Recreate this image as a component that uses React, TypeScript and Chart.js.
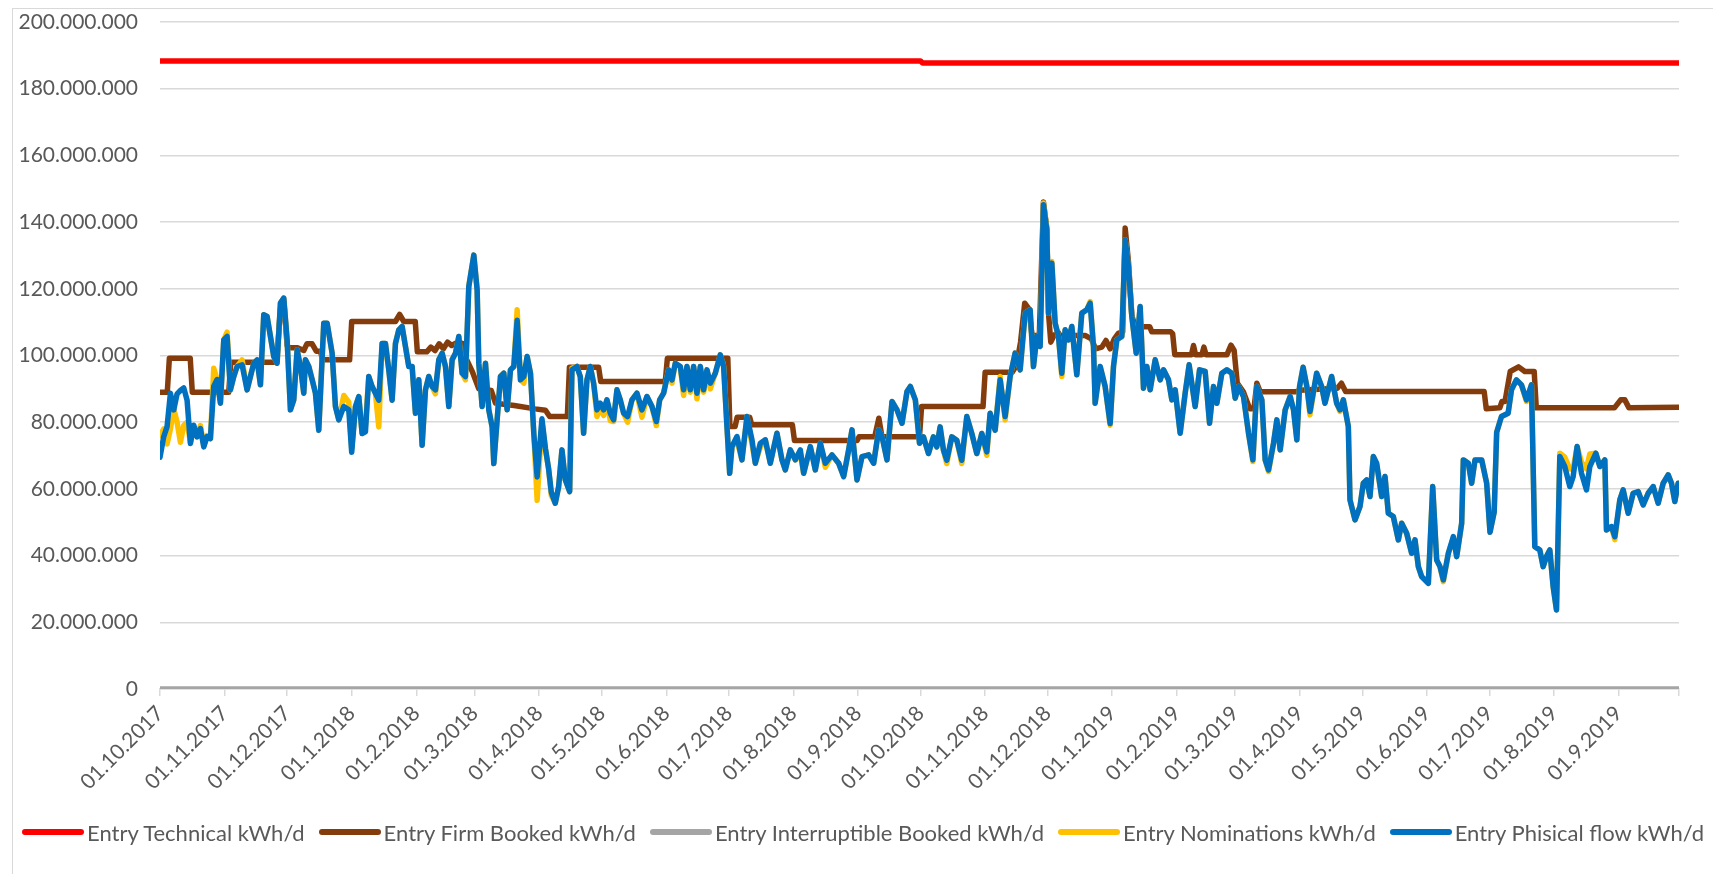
import React, { useEffect, useRef } from "react";
import { Chart, registerables } from "chart.js";

Chart.register(...registerables);

// x = day index counted from 01.10.2017, y = million kWh/d
const tickDays = [0, 31, 61, 92, 123, 151, 182, 212, 243, 273, 304, 335, 365, 396, 426, 457, 488, 516, 547, 577, 608, 638, 669, 700];
const tickLabels = [
  "01.10.2017", "01.11.2017", "01.12.2017", "01.1.2018", "01.2.2018", "01.3.2018", "01.4.2018", "01.5.2018",
  "01.6.2018", "01.7.2018", "01.8.2018", "01.9.2018", "01.10.2018", "01.11.2018", "01.12.2018", "01.1.2019",
  "01.2.2019", "01.3.2019", "01.4.2019", "01.5.2019", "01.6.2019", "01.7.2019", "01.8.2019", "01.9.2019",
];
const lastDay = 729;
const yTicks = [0, 20, 40, 60, 80, 100, 120, 140, 160, 180, 200];

const seriesNames = [
  "Entry Technical kWh/d",
  "Entry Firm Booked kWh/d",
  "Entry Interruptible Booked kWh/d",
  "Entry Nominations kWh/d",
  "Entry Phisical flow kWh/d",
];
const seriesColors = ["#FF0000", "#843C0C", "#A5A5A5", "#FFC000", "#0070C0"];

const technical: [number, number][] = [[0, 188.3], [365, 188.3], [366, 187.7], [729, 187.7]];

const firmBooked: [number, number][] = [
  [0, 89], [3.5, 89], [4.5, 99.2], [14.5, 99.2], [15.5, 89], [33, 89], [34, 98], [56, 98], [57.8, 114], [59.4, 116.5],
  [61, 103], [62, 102.3], [66, 102.3], [69, 101.5], [70.5, 103.5], [73, 103.5], [75, 101.3], [77, 101.3], [78, 98.7], [91, 98.7],
  [92, 110.2], [113, 110.2], [115, 112.3], [117, 110.2], [122.5, 110.2], [123.5, 101.1], [128, 101.1], [130, 102.5], [132, 101.5],
  [134, 103.5], [136, 102], [138, 104], [140, 103], [142, 103.7], [145, 103.7], [147, 99], [150, 95], [153, 90], [159, 89.5],
  [161, 85.7], [170, 85], [180, 84], [185, 83.6], [187, 81.7], [195.5, 81.7], [196.5, 96.5], [210.5, 96.5], [211.5, 92.2],
  [242.5, 92.2], [243.5, 99.2], [272.5, 99.2], [273.5, 78.7], [276, 78.7], [277, 81.5], [283, 81.5], [284, 79.2], [303.5, 79.2],
  [304.5, 74.5], [334.5, 74.5], [335.5, 75.6], [343, 75.6], [345, 81.2], [346.5, 75.6], [364.5, 75.6], [365.5, 84.7], [395, 84.7],
  [396, 95], [409, 95], [411, 97], [413, 104], [415, 115.7], [417, 114], [418.5, 106], [422, 106], [424, 146], [425.6, 138],
  [426.5, 112], [427.5, 104], [429, 106], [431, 107], [433, 105], [436, 106], [440, 106], [444, 106], [447, 105], [449, 102],
  [452, 102.5], [454, 104.5], [456, 102], [458, 105], [460, 106.7], [462, 107], [463.2, 138.2], [464.8, 128], [466.4, 112],
  [468, 108.6], [475, 108.6], [476, 107.1], [485, 107.1], [486, 106.5], [487, 100.2], [495, 100.2], [496, 103], [497, 100.2],
  [500, 100.2], [501, 102.5], [502, 100.2], [512, 100.2], [514, 103.1], [515.5, 101.5], [517, 91.7], [520, 89], [523, 84],
  [525, 84], [526.4, 91.7], [528, 89.1], [545, 89.1], [547, 89.6], [565, 90.2], [567, 91.7], [569, 89.2], [635.5, 89.2],
  [636.5, 84], [643, 84.3], [644, 86.2], [645.5, 86.2], [648, 95.2], [652, 96.6], [655, 95.2], [659.5, 95.2], [660.5, 84.3],
  [698, 84.3], [701, 86.7], [703, 86.7], [705, 84.3], [729, 84.5],
];

const interruptible: [number, number][] = [[0, 0], [729, 0]];

const nominations: [number, number][] = [
  [0, 76], [1.8, 78], [3.4, 73.5], [5, 78], [6.6, 84], [8.2, 80], [9.8, 74], [11.4, 79], [13, 80], [14.6, 74], [16.2, 78],
  [17.8, 76], [19.4, 79], [21, 73], [22.6, 76], [24.2, 75.1], [25.8, 96.2], [27.4, 92.8], [29, 85.7], [30.6, 104.7], [32.2, 107],
  [33.8, 89.7], [35.4, 93.7], [37, 96.7], [39.4, 98.7], [41.8, 89.7], [43.4, 93.7], [45, 97.7], [46.6, 98.7], [48.2, 91.2],
  [49.8, 112.2], [51.4, 111.7], [53, 105.7], [54.6, 99.7], [56.2, 97.7], [57.8, 115.7], [59.4, 117.2], [61, 104.7], [62.6, 83.7],
  [64.2, 86.7], [65.8, 101.7], [67.4, 96.7], [69, 88.7], [69.8, 98.7], [71.4, 96.7], [73, 92.8], [74.6, 88.7], [76.2, 77.6],
  [78.6, 109.7], [80.2, 109.7], [82.6, 100.7], [84.2, 84.7], [85.8, 80.7], [88.2, 88], [90.6, 86], [92, 72], [93.8, 84.7],
  [95.4, 87.7], [97, 76.6], [98.6, 79], [100.2, 93.7], [101.8, 90.7], [103.4, 88.7], [105, 78.6], [106.6, 103.6], [108.2, 103.6],
  [109.8, 95.7], [111.4, 86.6], [113, 103.6], [114.6, 107.7], [116.2, 108.7], [117.8, 102.7], [119.4, 96.7], [121, 96.7],
  [122.6, 82.7], [124.2, 92.7], [125.8, 73.1], [127.4, 89.7], [129, 93.7], [130.6, 90.7], [132.2, 88.5], [133.8, 98.7],
  [135.4, 100.7], [137, 96.7], [138.6, 84.7], [140.2, 98.7], [141.8, 100.7], [143.4, 105.7], [145, 94.7], [146.6, 92.7],
  [148.2, 120.7], [150.6, 130.1], [152.2, 119.7], [153, 97.7], [154.6, 84.7], [156.2, 97.7], [157.8, 83.7], [159.4, 78.6],
  [160.2, 67.6], [161.8, 80.7], [163.4, 93.7], [165, 94.7], [166.6, 83.7], [168.2, 95.7], [169.8, 96.7], [171.4, 113.7],
  [173, 92.7], [174.6, 91.7], [176.2, 99.7], [177.8, 94.7], [179.4, 76.6], [181, 56.6], [183.3, 80], [185, 72], [186.5, 66],
  [187.8, 58], [189.7, 55.7], [191.3, 60.6], [192.9, 71.7], [194.5, 62.7], [196.6, 59.2], [197.7, 96.2], [200.1, 96.7],
  [201.7, 93.7], [203.3, 76.7], [204.9, 92.7], [206.5, 96.7], [208.1, 91.7], [209.7, 81.7], [211.3, 84.5], [212.9, 82],
  [214.5, 86.7], [216.1, 80.5], [217.7, 80.2], [219.3, 89.7], [220.9, 86.7], [222.5, 82.7], [224.4, 80], [226.5, 86.7],
  [228.9, 88.7], [231.3, 81.5], [233.7, 87.7], [236.1, 84.7], [238.2, 79], [239.8, 86.7], [241.7, 88.7], [244.1, 95.7],
  [245.7, 91.7], [247.3, 97.7], [249.7, 96.7], [251.3, 88], [252.9, 96.7], [254.5, 89], [256.1, 96.7], [257.7, 87],
  [259.3, 96.7], [260.9, 89], [262.5, 95.7], [264.1, 90], [266.5, 94.7], [268.9, 100.2], [270.5, 96.7], [272.1, 78.7],
  [273.4, 64.7], [274.5, 72.7], [276.9, 74.5], [279.3, 68.7], [281.7, 81.7], [284.1, 73.5], [285.7, 67.7], [288.1, 72.5],
  [290.5, 74.7], [292.9, 67.7], [296.1, 76.7], [298.5, 68.7], [300.1, 65.7], [302.5, 71.7], [304.9, 68.7], [307.3, 70.5],
  [308.9, 64.7], [312.1, 72.7], [314.5, 65.7], [316.9, 73.7], [319.3, 66.5], [322.5, 70.2], [325.7, 67.7], [328.1, 63.7],
  [330.5, 71.7], [332.1, 77.7], [334.5, 62.7], [336.9, 69.7], [340.1, 70.2], [342.5, 67.7], [344.9, 77.7], [346.5, 75.7],
  [348.9, 68.7], [351.3, 86.2], [353.7, 83.7], [356.1, 79.7], [358.5, 89.2], [360.1, 90.7], [362.5, 86.7], [364.5, 73.7],
  [366.4, 75.6], [368.8, 70.6], [371.2, 75.6], [372.8, 72.6], [374.4, 78.6], [376, 71.6], [377.6, 67.6], [380, 75.6],
  [382.4, 74.6], [384.8, 67.6], [387.2, 81.7], [389.6, 76.6], [392, 70.6], [394.4, 76.6], [396.8, 70.1], [398.4, 82.7],
  [400.8, 77.6], [403.2, 93.7], [405.6, 80.7], [408, 93.7], [410.4, 100.7], [412.8, 95.7], [415.2, 112.7], [417.6, 113.7],
  [419.2, 96.7], [420.8, 105.7], [422.4, 102.7], [424, 145.7], [425.6, 138.2], [426.4, 112.7], [428, 128.2], [429.6, 109.7],
  [431.2, 105.7], [432.8, 93.7], [434.4, 107.7], [436, 104.7], [437.6, 108.7], [440, 94.2], [442.4, 112.7], [444.8, 113.7],
  [446.4, 116.2], [448, 102.7], [448.8, 85.7], [451.2, 96.7], [453.6, 90.7], [456, 79.1], [457.6, 96.7], [459.2, 104.7],
  [461.6, 105.7], [463.2, 134.7], [464.8, 126.7], [466.4, 111.7], [468.5, 100.7], [470.4, 114.7], [472, 90.2], [473.6, 96.7],
  [475.2, 89.7], [477.6, 98.7], [480, 92.7], [481.6, 95.7], [484, 92.7], [485.6, 86.7], [487.2, 89.7], [489.6, 76.7],
  [492, 88.7], [493.9, 97.2], [496.8, 84.7], [498.9, 95.7], [501.6, 95.2], [503.7, 79.7], [505.6, 90.7], [507.2, 85.7],
  [509.6, 94.7], [512, 95.7], [514.4, 94.7], [516, 87.2], [517.6, 90.7], [520, 87.7], [522.4, 76.7], [524.5, 68.2],
  [526.4, 90.7], [528.8, 86.7], [530.4, 68.7], [532, 65.2], [534.4, 73.7], [536, 80.7], [537.6, 71.7], [540, 83.7],
  [542.4, 87.7], [544, 83.7], [545.6, 74.7], [546.9, 90.7], [548.6, 96.5], [550.4, 90.7], [551.9, 82.2], [555.1, 94.7],
  [557.5, 90.7], [559.1, 85.7], [562.3, 93.7], [564.7, 85.7], [566.3, 83.2], [567.9, 86.7], [570.3, 78.7], [571.1, 56.7],
  [573.5, 50.7], [575.9, 54.7], [577.5, 61.7], [579.1, 62.7], [580.7, 57.7], [582.3, 69.7], [583.9, 67.2], [586.3, 57.7],
  [587.9, 63.7], [589.5, 52.7], [591.9, 51.7], [594.3, 44.7], [595.9, 49.7], [598.3, 46.7], [600.7, 40.7], [602.3, 44.7],
  [603.9, 36.7], [605.5, 33.7], [608.7, 31.7], [610.8, 60.7], [612.7, 38.7], [614.3, 36.7], [615.9, 32.2], [618.3, 40.7],
  [620.7, 45.2], [622.3, 39.7], [624.7, 49.7], [625.5, 68.7], [627.9, 67.7], [629.5, 61.7], [631.1, 68.7], [634.3, 68.7],
  [636.7, 61.7], [638.3, 47], [640.3, 53], [641.5, 77], [643.8, 81.7], [647, 82.7], [648.6, 89.7], [651, 92.7], [653.4, 91.2],
  [655.8, 86.2], [658.2, 91.2], [659.8, 42.7], [662.2, 41.7], [663.8, 36.7], [665.4, 39.7], [667, 41.7], [668.6, 30.7],
  [670.2, 23.7], [671.8, 70.7], [674.2, 69.5], [676.6, 66], [678.2, 66], [680.1, 72.7], [682.2, 68], [684.6, 66],
  [686.2, 70.5], [689.1, 70.7], [691, 66.7], [693.4, 68.7], [694.2, 47.7], [696.6, 48.7], [698.2, 44.8], [700.6, 56.7],
  [702.2, 59.7], [704.6, 52.7], [707, 58.7], [709.4, 59.2], [711.8, 55.2], [714.2, 58.7], [716.6, 60.7], [719, 55.7],
  [721.4, 61.7], [723.8, 64.2], [725.4, 61.7], [727, 56.2], [728.6, 61.7],
];

const physicalFlow: [number, number][] = [
  [0, 69.5], [1.8, 75.7], [3.4, 78.7], [5, 88.7], [6.6, 83.7], [8.2, 88.5], [9.8, 89.5], [11.4, 90.3], [13, 86.6], [14.6, 73.6],
  [16.2, 79.1], [17.8, 75.6], [19.4, 78.1], [21, 72.6], [22.6, 75.7], [24.2, 75.1], [25.8, 90.8], [27.4, 92.8], [29, 85.7],
  [30.6, 104.7], [32.2, 105.7], [33.8, 89.7], [35.4, 93.7], [37, 96.7], [39.4, 97.2], [41.8, 89.7], [43.4, 93.7], [45, 97.7],
  [46.6, 98.7], [48.2, 91.2], [49.8, 112.2], [51.4, 111.7], [53, 105.7], [54.6, 99.7], [56.2, 97.7], [57.8, 115.7], [59.4, 117.2],
  [61, 104.7], [62.6, 83.7], [64.2, 86.7], [65.8, 101.7], [67.4, 96.7], [69, 88.7], [69.8, 98.7], [71.4, 96.7], [73, 92.8],
  [74.6, 88.7], [76.2, 77.6], [78.6, 109.7], [80.2, 109.7], [82.6, 100.7], [84.2, 84.7], [85.8, 80.7], [88.2, 84.7], [90.6, 83.7],
  [92, 71], [93.8, 84.7], [95.4, 87.7], [97, 76.6], [98.6, 77.1], [100.2, 93.7], [101.8, 90.7], [103.4, 88.7], [105, 86.6],
  [106.6, 103.6], [108.2, 103.6], [109.8, 95.7], [111.4, 86.6], [113, 103.6], [114.6, 107.7], [116.2, 108.7], [117.8, 102.7],
  [119.4, 96.7], [121, 96.7], [122.6, 82.7], [124.2, 92.7], [125.8, 73.1], [127.4, 89.7], [129, 93.7], [130.6, 90.7],
  [132.2, 89.7], [133.8, 98.7], [135.4, 100.7], [137, 96.7], [138.6, 84.7], [140.2, 98.7], [141.8, 100.7], [143.4, 105.7],
  [145, 94.7], [146.6, 93.7], [148.2, 120.7], [150.6, 130.1], [152.2, 119.7], [153, 97.7], [154.6, 84.7], [156.2, 97.7],
  [157.8, 83.7], [159.4, 78.6], [160.2, 67.6], [161.8, 80.7], [163.4, 93.7], [165, 94.7], [166.6, 83.7], [168.2, 95.7],
  [169.8, 96.7], [171.4, 110.6], [173, 92.7], [174.6, 93.7], [176.2, 99.7], [177.8, 94.7], [179.4, 76.6], [181, 63.6],
  [183.3, 81], [185, 72], [186.5, 66], [187.8, 59], [189.7, 55.7], [191.3, 60.6], [192.9, 71.7], [194.5, 62.7], [196.6, 59.2],
  [197.7, 95.7], [200.1, 96.7], [201.7, 93.7], [203.3, 76.7], [204.9, 92.7], [206.5, 96.7], [208.1, 91.7], [209.7, 83.7],
  [211.3, 85.7], [212.9, 83.7], [214.5, 86.7], [216.1, 82.7], [217.7, 80.7], [219.3, 89.7], [220.9, 86.7], [222.5, 82.7],
  [224.4, 81.7], [226.5, 86.7], [228.9, 88.7], [231.3, 83.7], [233.7, 87.7], [236.1, 84.7], [238.2, 80.2], [239.8, 86.7],
  [241.7, 88.7], [244.1, 95.7], [245.7, 92.7], [247.3, 97.7], [249.7, 96.7], [251.3, 89.7], [252.9, 96.7], [254.5, 89.7],
  [256.1, 96.7], [257.7, 88.7], [259.3, 96.7], [260.9, 89.7], [262.5, 95.7], [264.1, 91.7], [266.5, 94.7], [268.9, 100.2],
  [270.5, 96.7], [272.1, 78.7], [273.4, 64.7], [274.5, 72.7], [276.9, 75.7], [279.3, 68.7], [281.7, 81.7], [284.1, 74.7],
  [285.7, 67.7], [288.1, 73.7], [290.5, 74.7], [292.9, 67.7], [296.1, 76.7], [298.5, 68.7], [300.1, 65.7], [302.5, 71.7],
  [304.9, 68.7], [307.3, 71.7], [308.9, 64.7], [312.1, 72.7], [314.5, 65.7], [316.9, 73.7], [319.3, 67.7], [322.5, 70.2],
  [325.7, 67.7], [328.1, 63.7], [330.5, 71.7], [332.1, 77.7], [334.5, 62.7], [336.9, 69.7], [340.1, 70.2], [342.5, 67.7],
  [344.9, 77.7], [346.5, 75.7], [348.9, 68.7], [351.3, 86.2], [353.7, 83.7], [356.1, 79.7], [358.5, 89.2], [360.1, 90.7],
  [362.5, 86.7], [364.5, 73.7], [366.4, 75.6], [368.8, 70.6], [371.2, 75.6], [372.8, 72.6], [374.4, 78.6], [376, 71.6],
  [377.6, 68.6], [380, 75.6], [382.4, 74.6], [384.8, 68.6], [387.2, 81.7], [389.6, 76.6], [392, 70.6], [394.4, 76.6],
  [396.8, 71.1], [398.4, 82.7], [400.8, 77.6], [403.2, 92.7], [405.6, 81.7], [408, 93.7], [410.4, 100.7], [412.8, 95.7],
  [415.2, 112.7], [417.6, 113.7], [419.2, 96.7], [420.8, 105.7], [422.4, 102.7], [424, 145.2], [425.6, 137.7], [426.4, 112.7],
  [428, 127.7], [429.6, 109.7], [431.2, 105.7], [432.8, 94.7], [434.4, 107.7], [436, 104.7], [437.6, 108.7], [440, 94.2],
  [442.4, 112.7], [444.8, 113.7], [446.4, 115.7], [448, 102.7], [448.8, 85.7], [451.2, 96.7], [453.6, 90.7], [456, 79.6],
  [457.6, 96.7], [459.2, 104.7], [461.6, 105.7], [463.2, 134.7], [464.8, 126.7], [466.4, 111.7], [468.5, 100.7], [470.4, 114.7],
  [472, 90.2], [473.6, 96.7], [475.2, 89.7], [477.6, 98.7], [480, 92.7], [481.6, 95.7], [484, 92.7], [485.6, 86.7],
  [487.2, 89.7], [489.6, 76.7], [492, 88.7], [493.9, 97.2], [496.8, 84.7], [498.9, 95.7], [501.6, 95.2], [503.7, 79.7],
  [505.6, 90.7], [507.2, 85.7], [509.6, 94.7], [512, 95.7], [514.4, 94.7], [516, 87.2], [517.6, 90.7], [520, 87.7],
  [522.4, 76.7], [524.5, 68.7], [526.4, 90.7], [528.8, 86.7], [530.4, 68.7], [532, 65.7], [534.4, 73.7], [536, 80.7],
  [537.6, 71.7], [540, 83.7], [542.4, 87.7], [544, 83.7], [545.6, 74.7], [546.9, 90.7], [548.6, 96.5], [550.4, 90.7],
  [551.9, 83.2], [555.1, 94.7], [557.5, 90.7], [559.1, 85.7], [562.3, 93.7], [564.7, 85.7], [566.3, 83.7], [567.9, 86.7],
  [570.3, 78.7], [571.1, 56.7], [573.5, 50.7], [575.9, 54.7], [577.5, 61.7], [579.1, 62.7], [580.7, 57.7], [582.3, 69.7],
  [583.9, 67.7], [586.3, 57.7], [587.9, 63.7], [589.5, 52.7], [591.9, 51.7], [594.3, 44.7], [595.9, 49.7], [598.3, 46.7],
  [600.7, 40.7], [602.3, 44.7], [603.9, 36.7], [605.5, 33.7], [608.7, 31.7], [610.8, 60.7], [612.7, 38.7], [614.3, 36.7],
  [615.9, 32.7], [618.3, 40.7], [620.7, 45.7], [622.3, 39.7], [624.7, 49.7], [625.5, 68.7], [627.9, 67.7], [629.5, 61.7],
  [631.1, 68.7], [634.3, 68.7], [636.7, 61.7], [638.3, 47], [640.3, 53], [641.5, 77], [643.8, 81.7], [647, 82.7],
  [648.6, 89.7], [651, 92.7], [653.4, 91.2], [655.8, 86.7], [658.2, 91.2], [659.8, 42.7], [662.2, 41.7], [663.8, 36.7],
  [665.4, 39.7], [667, 41.7], [668.6, 30.7], [670.2, 23.7], [671.8, 69.7], [674.2, 66.7], [676.6, 60.7], [678.2, 63.7],
  [680.1, 72.7], [682.2, 64.7], [684.6, 59.7], [686.2, 66.7], [689.1, 70.7], [691, 66.7], [693.4, 68.7], [694.2, 47.7],
  [696.6, 48.7], [698.2, 45.7], [700.6, 56.7], [702.2, 59.7], [704.6, 52.7], [707, 58.7], [709.4, 59.2], [711.8, 55.2],
  [714.2, 58.7], [716.6, 60.7], [719, 55.7], [721.4, 61.7], [723.8, 64.2], [725.4, 61.7], [727, 56.2], [728.6, 61.7],
];

const FONT = "Lato, 'Liberation Sans', Arial, sans-serif";
const TEXT = "#595959";
const GRID = "#D9D9D9";

const fmtThousands = (v: number) => String(Math.round(v)).replace(/\B(?=(\d{3})+(?!\d))/g, ".");
const toPoints = (arr: [number, number][]) => arr.map(([d, v]) => ({ x: d, y: v * 1e6 }));

export default function App() {
  const canvasRef = useRef<HTMLCanvasElement | null>(null);

  useEffect(() => {
    const canvas = canvasRef.current;
    if (!canvas) return;
    const mk = (i: number, data: [number, number][], order: number, width = 5.5) => ({
      label: seriesNames[i],
      data: toPoints(data),
      borderColor: seriesColors[i],
      backgroundColor: seriesColors[i],
      borderWidth: width,
      pointRadius: 0,
      pointHoverRadius: 0,
      tension: 0,
      borderJoinStyle: "round" as const,
      borderCapStyle: "round" as const,
      fill: false,
      order,
    });
    const chart = new Chart(canvas, {
      type: "line",
      data: {
        datasets: [
          mk(0, technical, 5),
          mk(1, firmBooked, 4),
          mk(2, interruptible, 3),
          mk(3, nominations, 2),
          mk(4, physicalFlow, 1),
        ],
      },
      options: {
        animation: false,
        responsive: false,
        maintainAspectRatio: false,
        events: [],
        layout: { padding: { left: 0, right: 34, top: 22, bottom: 64 } },
        plugins: {
          tooltip: { enabled: false },
          legend: { display: false },
        },
        scales: {
          x: {
            type: "linear",
            min: 0,
            max: lastDay,
            afterBuildTicks: (scale: any) => {
              scale.ticks = [...tickDays, lastDay].map((v) => ({ value: v }));
            },
            afterFit: (scale: any) => {
              scale.height = 121;
            },
            ticks: {
              autoSkip: false,
              minRotation: 45,
              maxRotation: 45,
              padding: 5,
              color: TEXT,
              font: { family: FONT, size: 21 },
              callback: (value: any) => {
                const i = tickDays.indexOf(Number(value));
                return i >= 0 ? tickLabels[i] : "";
              },
            },
            grid: { drawOnChartArea: false, drawTicks: true, tickLength: 7, color: GRID, lineWidth: 1.5 },
            border: { display: true, color: GRID, width: 1.5 },
          },
          y: {
            min: 0,
            max: 200e6,
            afterBuildTicks: (scale: any) => {
              scale.ticks = yTicks.map((v) => ({ value: v * 1e6 }));
            },
            afterFit: (scale: any) => {
              scale.width = 160;
              scale.paddingTop = 0;
              scale.paddingBottom = 0;
            },
            ticks: {
              padding: 22,
              color: TEXT,
              font: { family: FONT, size: 21 },
              callback: (value: any) => fmtThousands(Number(value)),
            },
            grid: { color: GRID, lineWidth: 1.5, drawTicks: false },
            border: { display: false },
          },
        },
      },
    } as any);
    return () => chart.destroy();
  }, []);

  return (
    <div style={{ position: "absolute", left: 0, top: 0, width: 1713, height: 874, background: "#ffffff", overflow: "hidden" }}>
      <div
        style={{
          position: "absolute",
          left: 12,
          top: 8,
          width: 1713,
          height: 874,
          borderLeft: "1.5px solid #D9D9D9",
          borderTop: "1.5px solid #D9D9D9",
        }}
      />
      <canvas ref={canvasRef} width={1713} height={874} style={{ position: "absolute", left: 0, top: 0 }} />
      <div
        style={{
          position: "absolute",
          left: 22,
          top: 817,
          width: 1682,
          height: 30,
          display: "flex",
          justifyContent: "space-between",
          alignItems: "center",
          fontFamily: FONT,
          fontSize: 22,
          color: TEXT,
          whiteSpace: "nowrap",
        }}
      >
        {seriesNames.map((name, i) => (
          <div key={name} style={{ display: "flex", alignItems: "center" }}>
            <span
              style={{
                display: "inline-block",
                width: 62,
                height: 5.5,
                borderRadius: 3,
                background: seriesColors[i],
                marginRight: 3,
              }}
            />
            <span>{name}</span>
          </div>
        ))}
      </div>
    </div>
  );
}
